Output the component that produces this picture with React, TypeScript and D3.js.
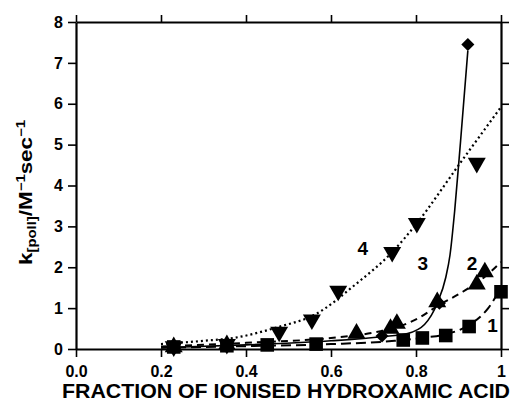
import React, { useEffect, useRef } from 'react';
import * as d3 from 'd3';

// measured points
const s1X = [0.23, 0.355, 0.45, 0.565, 0.77, 0.815, 0.87, 0.925, 1.0];
const s1Y = [0.05, 0.08, 0.1, 0.12, 0.22, 0.27, 0.33, 0.55, 1.4];
const s2X = [0.23, 0.355, 0.66, 0.74, 0.755, 0.85, 0.943, 0.962];
const s2Y = [0.05, 0.1, 0.38, 0.5, 0.62, 1.15, 1.58, 1.88];
const s3X = [0.23, 0.355, 0.72, 0.855, 0.922];
const s3Y = [0.05, 0.1, 0.32, 1.12, 7.45];
const s4X = [0.23, 0.355, 0.478, 0.555, 0.617, 0.744, 0.802, 0.943];
const s4Y = [0.06, 0.12, 0.42, 0.72, 1.42, 2.37, 3.08, 4.55];

// fitted curves
const f1X = [0.2, 0.4, 0.6, 0.75, 0.82, 0.87, 0.93, 0.97, 1.0];
const f1Y = [0.03, 0.07, 0.12, 0.2, 0.28, 0.36, 0.62, 1.0, 1.5];
const f2X = [0.2, 0.4, 0.6, 0.7, 0.76, 0.81, 0.85, 0.91, 0.96, 1.0];
const f2Y = [0.06, 0.15, 0.27, 0.4, 0.55, 0.78, 1.05, 1.4, 1.75, 2.13];
const f3X = [0.2, 0.4, 0.6, 0.72, 0.78, 0.82, 0.85, 0.87, 0.88, 0.891, 0.905, 0.922];
const f3Y = [0.03, 0.1, 0.2, 0.3, 0.38, 0.6, 1.12, 1.75, 2.3, 3.38, 5.1, 7.3];
const f4X = [0.2, 0.3, 0.37, 0.48, 0.56, 0.66, 0.744, 0.8, 0.904, 1.0];
const f4Y = [0.12, 0.2, 0.27, 0.55, 0.83, 1.6, 2.37, 3.05, 4.55, 5.92];

const xTicks = [0, 0.2, 0.4, 0.6, 0.8, 1];
const xTickLabels = ['0.0', '0.2', '0.4', '0.6', '0.8', '1'];
const yTicks = [0, 1, 2, 3, 4, 5, 6, 7, 8];

const curveLabels = [
  { text: '1', x: 0.98, y: 0.58 },
  { text: '2', x: 0.932, y: 2.1 },
  { text: '3', x: 0.816, y: 2.1 },
  { text: '4', x: 0.675, y: 2.45 },
];

const W = 514;
const H = 416;

const App: React.FC = () => {
  const svgRef = useRef<SVGSVGElement>(null);

  useEffect(() => {
    if (!svgRef.current) return;
    const svg = d3.select(svgRef.current);
    svg.selectAll('*').remove();

    const margin = { top: 22, right: 13, bottom: 67, left: 76 };
    const iw = W - margin.left - margin.right;
    const ih = H - margin.top - margin.bottom;
    const font = "'Liberation Sans', Arial, sans-serif";

    const x = d3.scaleLinear().domain([0, 1]).range([0, iw]);
    const y = d3.scaleLinear().domain([0, 8]).range([ih, 0]);

    const g = svg.append('g').attr('transform', `translate(${margin.left},${margin.top})`);

    // frame with outward ticks on all sides
    const styleAxis = (sel: any) => {
      sel.select('.domain').attr('stroke-width', 2.2);
      sel.selectAll('.tick line').attr('stroke-width', 1.6);
    };

    g.append('g')
      .attr('transform', `translate(0,${ih})`)
      .call(d3.axisBottom(x).tickValues(xTicks).tickSize(8).tickSizeOuter(0)
        .tickFormat((_, i) => xTickLabels[i]))
      .call(styleAxis)
      .call((s: any) => s.selectAll('text')
        .attr('dy', 0).attr('y', 28)
        .style('font-family', font).style('font-weight', 'bold').style('font-size', '16px'));

    g.append('g')
      .call(d3.axisTop(x).tickValues(xTicks).tickSize(7).tickSizeOuter(0).tickFormat(() => ''))
      .call(styleAxis);

    g.append('g')
      .call(d3.axisLeft(y).tickValues(yTicks).tickSize(8).tickSizeOuter(0).tickFormat(d3.format('d')))
      .call(styleAxis)
      .call((s: any) => s.selectAll('text')
        .attr('x', -13)
        .style('font-family', font).style('font-weight', 'bold').style('font-size', '16px'));

    g.append('g')
      .attr('transform', `translate(${iw},0)`)
      .call(d3.axisRight(y).tickValues(yTicks).tickSize(8).tickSizeOuter(0).tickFormat(() => ''))
      .call(styleAxis);

    const line = d3.line<[number, number]>()
      .x(d => x(d[0]))
      .y(d => y(d[1]))
      .curve(d3.curveMonotoneX);

    const fits: { xs: number[]; ys: number[]; dash: string | null; w: number }[] = [
      { xs: f1X, ys: f1Y, dash: '10,5', w: 2 },
      { xs: f2X, ys: f2Y, dash: '7,5', w: 2 },
      { xs: f3X, ys: f3Y, dash: null, w: 1.6 },
      { xs: f4X, ys: f4Y, dash: '2,3', w: 2.2 },
    ];
    fits.forEach(f => {
      const pts = f.xs.map((v, i) => [v, f.ys[i]] as [number, number]);
      const p = g.append('path')
        .attr('d', line(pts))
        .attr('fill', 'none')
        .attr('stroke', '#000')
        .attr('stroke-width', f.w);
      if (f.dash) p.attr('stroke-dasharray', f.dash);
    });

    const mk = (xs: number[], ys: number[], type: d3.SymbolType, size: number, rot = 0) => {
      g.append('g').selectAll('path')
        .data(xs.map((v, i) => [v, ys[i]]))
        .enter().append('path')
        .attr('d', d3.symbol().type(type).size(size)())
        .attr('transform', d => `translate(${x(d[0])},${y(d[1])}) rotate(${rot})`)
        .attr('fill', '#000');
    };

    mk(s1X, s1Y, d3.symbolSquare, 185);
    mk(s2X, s2Y, d3.symbolTriangle, 140);
    mk(s3X, s3Y, d3.symbolSquare, 85, 45);
    mk(s4X, s4Y, d3.symbolTriangle, 140, 180);

    g.append('g').selectAll('text')
      .data(curveLabels)
      .enter().append('text')
      .attr('x', d => x(d.x))
      .attr('y', d => y(d.y))
      .attr('text-anchor', 'middle')
      .attr('dominant-baseline', 'central')
      .style('font-family', font)
      .style('font-weight', 'bold')
      .style('font-size', '19px')
      .text(d => d.text);

    // axis titles
    svg.append('text')
      .attr('x', 62)
      .attr('y', 398)
      .attr('textLength', 448)
      .attr('lengthAdjust', 'spacingAndGlyphs')
      .style('font-family', font)
      .style('font-weight', 'bold')
      .style('font-size', '20px')
      .text('FRACTION OF IONISED HYDROXAMIC ACID');

    const yl = svg.append('text')
      .attr('transform', 'translate(32,265) rotate(-90)')
      .attr('textLength', 145)
      .attr('lengthAdjust', 'spacingAndGlyphs')
      .style('font-family', font)
      .style('font-weight', 'bold')
      .style('font-size', '18px');
    yl.append('tspan').text('k');
    yl.append('tspan').attr('dy', 4).style('font-size', '12px').text('[poll]');
    yl.append('tspan').attr('dy', -4).text('/M');
    yl.append('tspan').attr('dy', -7).style('font-size', '12px').text('−1');
    yl.append('tspan').attr('dy', 7).text('sec');
    yl.append('tspan').attr('dy', -7).style('font-size', '12px').text('−1');
  }, []);

  return (
    <svg
      ref={svgRef}
      width={W}
      height={H}
      style={{ position: 'absolute', left: 0, top: 0, background: '#fff' }}
    />
  );
};

export default App;
